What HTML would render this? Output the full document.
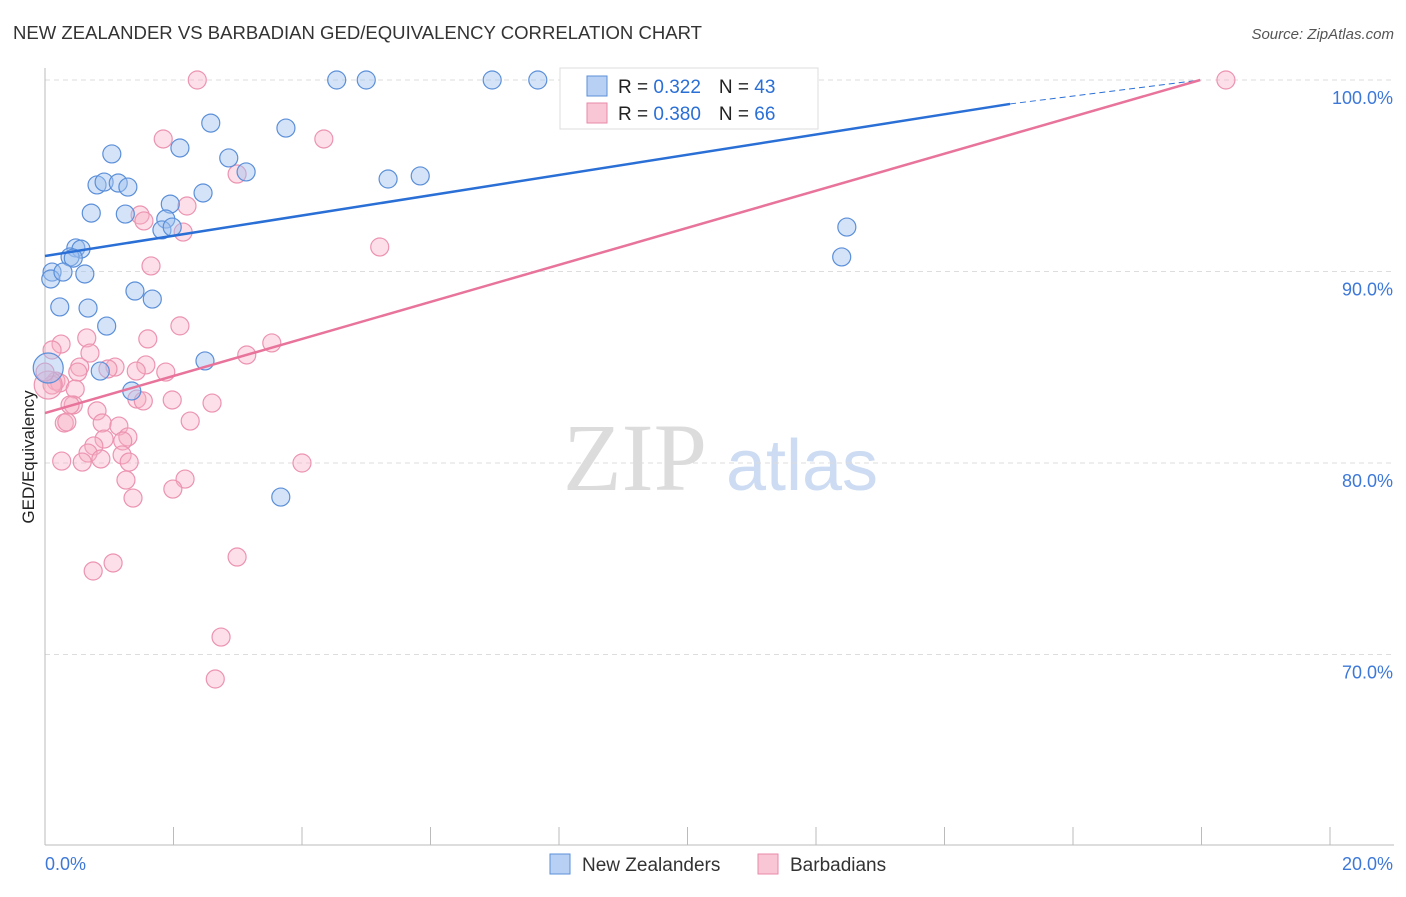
<!DOCTYPE html>
<html><head><meta charset="utf-8"><style>
body{margin:0;background:#fff;font-family:"Liberation Sans",sans-serif;}
</style></head><body>
<svg id="c" width="1406" height="892" xmlns="http://www.w3.org/2000/svg" style="font-family:'Liberation Sans',sans-serif">
<text x="13" y="39" font-size="18" fill="#333" textLength="689" lengthAdjust="spacingAndGlyphs">NEW ZEALANDER VS BARBADIAN GED/EQUIVALENCY CORRELATION CHART</text>
<text x="1394" y="39" font-size="15" fill="#555" text-anchor="end" font-style="italic">Source: ZipAtlas.com</text>
<g>
<text x="635" y="490" font-size="96" fill="#dcdcdc" font-family="'Liberation Serif',serif" text-anchor="middle">ZIP</text>
<text x="802" y="490" font-size="72" fill="#cddcf2" text-anchor="middle">atlas</text>
</g>
<g id="grid"></g>
<g id="axes"></g>
<g id="pts"></g>
<g id="lines"></g>
<text transform="translate(34,457) rotate(-90)" font-size="17" fill="#222" text-anchor="middle">GED/Equivalency</text>
<g>
<rect x="560" y="68" width="258" height="61" fill="#fff" stroke="#ddd"/>
<rect x="587" y="76" width="20" height="20" fill="#b8d0f4" stroke="#5b8fd9"/>
<rect x="587" y="103" width="20" height="20" fill="#f9c6d5" stroke="#e88aa8"/>
<text x="618" y="93" font-size="19" fill="#222">R = <tspan fill="#2a6fd6"> 0.322</tspan><tspan dx="18">N = </tspan><tspan fill="#2a6fd6">43</tspan></text>
<text x="618" y="120" font-size="19" fill="#222">R = <tspan fill="#2a6fd6">0.380</tspan><tspan dx="18">N = </tspan><tspan fill="#2a6fd6">66</tspan></text>
</g>
<g>
<rect x="550" y="854" width="20" height="20" fill="#b8d0f4" stroke="#5b8fd9"/>
<text x="582" y="871" font-size="19" fill="#333">New Zealanders</text>
<rect x="758" y="854" width="20" height="20" fill="#f9c6d5" stroke="#e88aa8"/>
<text x="790" y="871" font-size="19" fill="#333">Barbadians</text>
</g>
</svg>
<script>
const yTicks=[100,90,80,70];
const xTickLabels=["0.0%","20.0%"];
const nzX=[4.54,5.0,6.96,7.67,2.58,3.75,1.04,2.10,2.86,3.13,0.81,0.92,1.14,1.29,2.46,5.34,5.84,1.95,0.72,1.25,1.88,1.82,1.98,0.48,0.56,0.39,0.44,0.11,0.09,0.28,0.62,0.23,0.67,1.40,1.67,0.96,2.49,0.86,1.35,3.67,12.48,12.4,0.05];
const nzY=[100,100,100,100,97.75,97.49,96.14,96.45,95.93,95.2,94.52,94.67,94.62,94.41,94.1,94.83,94.99,93.52,93.05,93.0,92.74,92.17,92.32,91.23,91.17,90.76,90.7,89.97,89.61,89.97,89.87,88.15,88.09,88.98,88.56,87.15,85.33,84.8,83.76,78.22,92.32,90.76,84.96];
const bbX=[2.37,18.38,1.84,4.34,2.99,2.21,1.48,1.54,2.15,5.21,1.65,2.10,1.60,0.65,0.25,3.53,0.11,0.70,3.14,1.57,1.09,0.98,0.54,0.51,1.42,1.88,0.17,0.23,0.47,0.11,1.43,1.53,1.98,2.60,0.81,0.44,0.30,0.34,2.26,0.89,1.15,1.29,0.92,0.76,0.67,1.21,1.20,0.87,0.26,0.58,1.31,4.0,1.26,2.18,1.37,1.99,2.99,0.75,1.06,2.74,2.65,0.05,0,0.39];
const bbY=[100,100,96.92,96.92,95.09,93.42,92.95,92.64,92.06,91.28,90.29,87.16,86.48,86.53,86.21,86.27,85.9,85.74,85.64,85.12,85.01,84.91,85.01,84.75,84.8,84.75,84.28,84.18,83.86,84.07,83.34,83.24,83.29,83.13,82.72,83.03,82.09,82.14,82.19,82.09,81.93,81.36,81.25,80.89,80.52,81.15,80.42,80.21,80.1,80.05,80.05,80.0,79.11,79.16,78.17,78.64,75.09,74.36,74.78,70.91,68.72,84.07,84.75,83.03];
const nzLine=[[0,90.81],[15.02,98.75]];
const nzDash=[[15.02,98.75],[17.98,100]];
const bbLine=[[0,82.61],[17.98,100]];
const NS="http://www.w3.org/2000/svg";
const sx=v=>45+v*64.25;
const sy=v=>80+(100-v)*19.15;
function mk(t,a,p){const e=document.createElementNS(NS,t);for(const k in a)e.setAttribute(k,a[k]);p.appendChild(e);return e;}
const grid=document.getElementById('grid'),axes=document.getElementById('axes'),pts=document.getElementById('pts'),lines=document.getElementById('lines');
yTicks.forEach(v=>{
 const l=mk('line',{x1:45,x2:1394,y1:sy(v),y2:sy(v),stroke:'#ddd','stroke-dasharray':'5,4'},grid);
 
 
 const t=mk('text',{x:1393,y:sy(v)+24,'font-size':18,fill:'#3d78d8','text-anchor':'end'},grid);
 t.textContent=v.toFixed(1)+'%';
 
 
});
mk('line',{x1:45,x2:45,y1:68,y2:845,stroke:'#bbb'},axes);
mk('line',{x1:45,x2:1394,y1:845,y2:845,stroke:'#bbb'},axes);
for(let i=0;i<=10;i++){
 const t=mk('line',{x1:sx(i*2),x2:sx(i*2),y1:827,y2:845,stroke:'#bbb'},axes);
 
 
}
const xl0=mk('text',{x:45,y:870,'font-size':18,fill:'#3d78d8'},axes);xl0.textContent=xTickLabels[0];


const xl1=mk('text',{x:1393,y:870,'font-size':18,fill:'#3d78d8','text-anchor':'end'},axes);xl1.textContent=xTickLabels[1];


bbX.forEach((x,i)=>{
 const c=mk('circle',{cx:sx(x),cy:sy(bbY[i]),r:(i==61?14:9),fill:'rgba(248,176,198,0.4)',stroke:'#ec93b0','stroke-width':1.2},pts);
 
 
});
nzX.forEach((x,i)=>{
 const c=mk('circle',{cx:sx(x),cy:sy(nzY[i]),r:(i==42?15:9),fill:'rgba(160,194,240,0.45)',stroke:'#5b8fd9','stroke-width':1.2},pts);
 
 
});
const l1=mk('line',{x1:sx(nzLine[0][0]),y1:sy(nzLine[0][1]),x2:sx(nzLine[1][0]),y2:sy(nzLine[1][1]),stroke:'#2a6fd6','stroke-width':2.5},lines);


const l2=mk('line',{x1:sx(nzDash[0][0]),y1:sy(nzDash[0][1]),x2:sx(nzDash[1][0]),y2:sy(nzDash[1][1]),stroke:'#2a6fd6','stroke-width':1,'stroke-dasharray':'6,4'},lines);


const l3=mk('line',{x1:sx(bbLine[0][0]),y1:sy(bbLine[0][1]),x2:sx(bbLine[1][0]),y2:sy(bbLine[1][1]),stroke:'#e8739b','stroke-width':2.5},lines);


</script>
</body></html>
